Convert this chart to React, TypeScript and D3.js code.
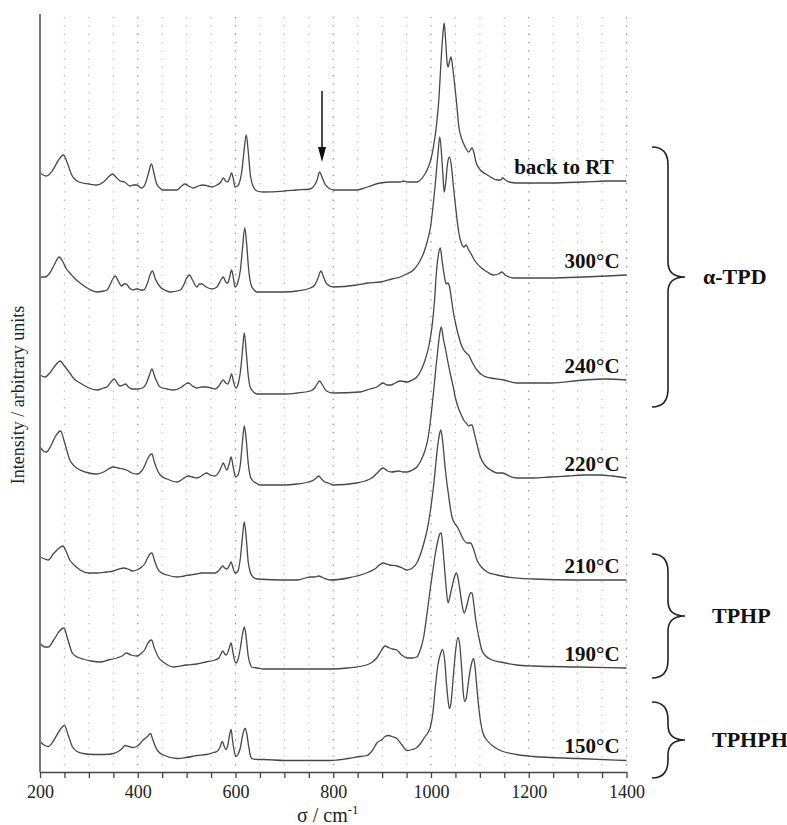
import { useEffect, useRef } from 'react'
import * as d3 from 'd3'

type Pt = [number, number]

// spectrum labels, top to bottom, and the vertical offset of each trace (arbitrary units)
const traceLabels = ['back to RT', '300°C', '240°C', '220°C', '210°C', '190°C', '150°C']
const traceOffsets = [591, 497, 392, 294, 192, 104, 11.5]

// [wavenumber, intensity above the trace's offset]
const specRT: Pt[] = [[200,8],[213,5],[225,10],[238,21],[248,26],[256,18],[265,6],[280,-1],[300,-3],[316,-4],[330,-1],[340,4],[349,7],[357,3],[364,0],[373,-1],[384,-5],[391,-4],[398,-4],[408,-7],[416,-2],[422,8],[428,17],[433,8],[438,-2],[445,-7],[452,-9],[480,-9],[490,-5],[496,-3],[504,-5],[514,-7],[524,-5],[534,-4],[544,-5],[552,-6],[562,-4],[570,-1],[575,3],[580,0],[584,-1],[588,3],[592,8],[596,1],[599,-6],[604,-5],[609,0],[613,10],[617,28],[622,46],[626,30],[630,8],[635,-4],[644,-10],[657,-11],[700,-10],[725,-9],[753,-8],[762,-4],[767,1],[772,9],[777,4],[783,-3],[794,-8],[800,-9],[848,-9],[870,-6],[896,-2],[920,-1],[937,-1],[944,0],[952,-1],[971,-1],[985,5],[992,11],[1000,22],[1005,34],[1011,55],[1016,81],[1020,115],[1024,145],[1027,158],[1030,140],[1033,118],[1035,114],[1038,120],[1041,124],[1044,115],[1048,98],[1052,80],[1057,54],[1063,42],[1070,34],[1077,29],[1084,33],[1088,28],[1092,19],[1101,11],[1112,7],[1122,4],[1135,1],[1142,1],[1147,3],[1152,1],[1160,-1],[1176,-2],[1244,-2],[1313,-1],[1360,0],[1400,0]]

const spec300: Pt[] = [[200,-2],[210,-2],[220,2],[230,11],[239,18],[246,14],[254,6],[261,2],[270,-3],[282,-8],[300,-14],[316,-17],[330,-16],[337,-15],[345,-8],[350,-3],[354,-1],[360,-6],[367,-11],[372,-9],[376,-9],[383,-13],[391,-15],[396,-14],[401,-14],[406,-15],[412,-15],[420,-8],[425,0],[430,4],[436,-4],[446,-12],[455,-15],[466,-17],[487,-15],[495,-9],[500,-3],[506,0],[512,-5],[521,-12],[526,-9],[531,-9],[540,-12],[552,-14],[562,-12],[570,-5],[575,-2],[580,-7],[584,-8],[588,-2],[592,5],[596,-4],[599,-12],[605,-7],[610,5],[614,25],[619,47],[623,30],[627,5],[632,-10],[638,-15],[644,-17],[700,-17],[726,-16],[753,-13],[762,-10],[768,-4],[775,4],[780,-2],[787,-9],[800,-12],[848,-10],[870,-8],[896,-7],[920,-4],[937,-2],[950,1],[964,5],[975,12],[985,22],[992,33],[999,48],[1004,68],[1009,92],[1014,120],[1018,138],[1022,118],[1025,95],[1027,83],[1030,92],[1034,112],[1038,118],[1042,108],[1046,88],[1051,65],[1057,42],[1062,32],[1067,28],[1072,30],[1076,26],[1081,22],[1090,14],[1101,8],[1115,3],[1128,0],[1138,1],[1145,3],[1152,0],[1169,-3],[1200,-3],[1244,-3],[1313,-2],[1360,-1],[1400,0]]

const spec240: Pt[] = [[200,5],[210,3],[220,7],[232,15],[241,19],[250,14],[261,7],[270,1],[282,-3],[300,-8],[316,-10],[330,-8],[337,-7],[345,-2],[352,1],[358,-3],[364,-6],[370,-5],[375,-4],[381,-7],[388,-9],[401,-9],[410,-8],[418,-3],[424,5],[429,11],[435,3],[446,-7],[460,-9],[473,-10],[490,-7],[498,-4],[504,-3],[512,-6],[521,-8],[531,-7],[541,-7],[550,-8],[558,-9],[566,-6],[571,-2],[575,0],[580,-3],[584,-4],[588,0],[592,6],[596,-2],[601,-8],[606,-3],[610,8],[614,28],[618,47],[622,28],[626,5],[630,-7],[637,-12],[644,-14],[700,-14],[726,-13],[753,-11],[762,-8],[767,-4],[772,-1],[778,-5],[786,-11],[800,-13],[855,-12],[875,-9],[889,-7],[902,-3],[910,-5],[917,-5],[927,-3],[937,-1],[951,-2],[962,0],[971,3],[980,10],[988,20],[996,35],[1002,53],[1007,78],[1011,107],[1015,125],[1019,132],[1023,118],[1027,105],[1031,96],[1034,97],[1037,95],[1041,84],[1045,70],[1051,55],[1057,43],[1062,35],[1067,30],[1072,27],[1077,25],[1085,17],[1094,10],[1108,4],[1122,2],[1149,0],[1176,-3],[1244,-3],[1313,0],[1355,1],[1400,0]]

const spec220: Pt[] = [[200,31],[207,27],[213,26],[222,32],[232,42],[242,47],[250,36],[261,18],[270,12],[282,8],[300,5],[316,4],[330,6],[340,9],[350,11],[360,10],[370,9],[377,8],[388,5],[398,4],[408,7],[414,12],[420,19],[425,23],[429,24],[434,16],[440,8],[446,3],[460,-1],[480,-4],[492,-1],[498,1],[504,2],[512,1],[521,0],[530,2],[536,4],[541,5],[548,3],[558,2],[566,6],[571,11],[575,15],[578,12],[582,8],[587,14],[591,21],[595,12],[600,1],[605,3],[610,14],[614,35],[618,52],[622,38],[626,15],[630,2],[634,-2],[642,-5],[650,-7],[700,-7],[726,-6],[749,-4],[760,-2],[765,0],[770,2],[776,-1],[783,-4],[790,-5],[800,-7],[848,-5],[865,-3],[879,0],[890,5],[902,10],[911,7],[920,6],[934,7],[943,6],[951,6],[962,8],[971,11],[980,18],[988,28],[994,40],[999,58],[1005,85],[1010,110],[1015,133],[1018,145],[1021,151],[1025,140],[1030,128],[1035,115],[1040,103],[1046,90],[1050,80],[1056,70],[1062,63],[1067,58],[1072,55],[1077,52],[1081,53],[1084,53],[1088,46],[1092,38],[1096,30],[1101,21],[1110,13],[1122,8],[1135,5],[1147,5],[1160,2],[1176,0],[1210,0],[1244,1],[1280,2],[1313,3],[1343,3],[1370,2],[1400,0]]

const spec210: Pt[] = [[200,23],[210,21],[217,20],[227,26],[237,31],[247,34],[254,28],[261,20],[270,15],[282,10],[300,7],[316,7],[335,8],[350,9],[362,11],[371,12],[380,11],[390,9],[398,10],[408,13],[414,16],[420,22],[425,26],[429,27],[434,20],[440,12],[446,8],[460,5],[480,3],[495,4],[507,5],[520,6],[530,7],[541,7],[550,7],[558,7],[565,9],[570,12],[574,14],[578,12],[582,11],[587,14],[591,18],[595,12],[599,7],[605,9],[610,22],[614,42],[618,58],[622,42],[626,18],[630,8],[636,3],[644,1],[700,0],[726,0],[753,3],[762,3],[770,4],[780,2],[794,0],[830,2],[868,7],[885,11],[902,17],[915,15],[930,14],[941,12],[951,10],[962,12],[971,17],[980,28],[986,38],[992,50],[999,70],[1005,93],[1009,112],[1012,127],[1016,142],[1020,150],[1024,138],[1029,112],[1035,88],[1043,63],[1048,57],[1054,53],[1060,47],[1067,40],[1074,37],[1081,37],[1087,31],[1094,20],[1103,13],[1115,8],[1135,5],[1156,3],[1210,1],[1300,0],[1400,0]]

const spec190: Pt[] = [[200,25],[210,21],[217,21],[228,28],[240,37],[249,40],[256,30],[266,15],[276,11],[288,9],[305,7],[323,6],[340,8],[357,10],[368,12],[377,15],[386,13],[398,12],[408,15],[414,18],[420,24],[424,27],[428,28],[434,20],[442,11],[455,5],[473,1],[500,3],[521,4],[540,6],[558,8],[566,10],[570,14],[574,17],[578,14],[581,13],[586,18],[591,25],[595,15],[598,8],[601,5],[606,10],[610,20],[614,33],[618,41],[622,30],[626,12],[630,4],[633,1],[645,0],[657,-1],[794,-1],[830,0],[868,3],[880,6],[889,10],[898,17],[906,22],[915,20],[922,19],[930,18],[940,13],[951,10],[962,10],[971,11],[978,18],[985,31],[992,55],[999,81],[1004,98],[1009,115],[1014,127],[1018,134],[1021,135],[1024,122],[1028,98],[1031,80],[1035,65],[1039,72],[1043,81],[1048,91],[1052,95],[1056,88],[1060,75],[1064,62],[1068,55],[1072,60],[1077,70],[1081,75],[1084,75],[1088,62],[1091,50],[1094,41],[1099,28],[1104,18],[1112,12],[1125,8],[1142,6],[1175,3],[1210,2],[1300,1],[1400,0]]

const spec150: Pt[] = [[200,19],[210,15],[217,14],[228,20],[240,30],[250,35],[258,25],[266,14],[276,9],[288,7],[310,6],[333,6],[350,7],[360,9],[368,12],[374,15],[382,14],[390,13],[398,14],[405,17],[410,20],[415,22],[420,24],[426,27],[430,22],[436,14],[442,9],[455,5],[480,2],[500,3],[521,5],[540,6],[555,8],[562,9],[568,13],[573,19],[577,14],[581,11],[585,17],[588,26],[591,31],[594,20],[598,8],[601,4],[605,6],[610,13],[614,24],[618,31],[620,32],[623,27],[627,14],[630,6],[633,2],[645,1],[657,1],[700,0],[794,0],[830,2],[855,4],[869,5],[880,10],[890,18],[900,21],[906,24],[913,25],[920,24],[930,22],[940,16],[951,10],[962,11],[971,13],[980,18],[988,24],[994,28],[999,34],[1004,48],[1009,74],[1014,95],[1019,106],[1024,111],[1028,100],[1032,75],[1036,56],[1038,52],[1041,58],[1045,80],[1050,108],[1055,123],[1059,115],[1063,90],[1066,68],[1069,59],[1072,62],[1077,80],[1082,95],[1087,102],[1090,94],[1094,72],[1098,52],[1101,40],[1106,28],[1115,20],[1128,14],[1142,10],[1175,6],[1210,4],[1300,2],[1400,0]]

const spectra = [specRT, spec300, spec240, spec220, spec210, spec190, spec150]

const xTicks = [200, 250, 300, 350, 400, 450, 500, 550, 600, 650, 700, 750, 800, 850, 900, 950, 1000, 1050, 1100, 1150, 1200, 1250, 1300, 1350, 1400]
const xTickLabels = [200, 400, 600, 800, 1000, 1200, 1400]

// phase groups marked by braces: [name, low, high] in intensity units
const phaseNames = ['α-TPD', 'TPHP', 'TPHPH']
const phaseLow = [365, 94, -6]
const phaseHigh = [625, 218, 70]

const arrowAt = 777
const FONT = "'Liberation Serif', 'Times New Roman', serif"

export default function App() {
  const svgRef = useRef<SVGSVGElement>(null)

  useEffect(() => {
    if (!svgRef.current) return
    const svg = d3.select(svgRef.current)
    svg.selectAll('*').remove()

    const x = d3.scaleLinear().domain([200, 1400]).range([40, 626.5])
    const y = d3.scaleLinear().domain([0, 758]).range([772, 14])

    // dotted grid
    svg.append('g')
      .selectAll('line')
      .data(xTicks.filter(t => t > 200))
      .enter().append('line')
      .attr('x1', d => x(d)).attr('x2', d => x(d))
      .attr('y1', 17).attr('y2', y(0) - 2)
      .attr('stroke', d => xTickLabels.includes(d) ? '#8a8a8a' : '#b8b8b8')
      .attr('stroke-width', 1.2)
      .attr('stroke-dasharray', '1.3 7')

    // spectra
    const line = d3.line<Pt>()
      .x(d => x(d[0]))
      .y(d => y(d[1]))
      .curve(d3.curveMonotoneX)

    spectra.forEach((s, i) => {
      const off = traceOffsets[i]
      svg.append('path')
        .datum(s.map(p => [p[0], p[1] + off] as Pt))
        .attr('d', line)
        .attr('fill', 'none')
        .attr('stroke', '#474747')
        .attr('stroke-width', 1.3)
        .attr('stroke-linejoin', 'round')
    })

    // x axis
    const xAxis = d3.axisBottom(x)
      .tickValues(xTicks)
      .tickSize(6)
      .tickSizeOuter(0)
      .tickPadding(7)
      .tickFormat(d => xTickLabels.includes(+d) ? String(d) : '')
    const ax = svg.append('g')
      .attr('transform', `translate(0,${y(0)})`)
      .call(xAxis)
    ax.select('.domain').attr('stroke', '#444').attr('stroke-width', 1.6)
    ax.selectAll('.tick line').attr('stroke', '#444').attr('stroke-width', 1.3)
    ax.selectAll('.tick text')
      .attr('fill', '#222')
      .style('font-family', FONT)
      .style('font-size', '18px')

    // y axis line
    svg.append('line')
      .attr('x1', 40).attr('x2', 40)
      .attr('y1', 14).attr('y2', y(0))
      .attr('stroke', '#777')
      .attr('stroke-width', 2)

    // axis titles
    const xt = svg.append('text')
      .attr('x', 297).attr('y', 821.5)
      .attr('fill', '#222')
      .style('font-family', FONT)
      .style('font-size', '20px')
    xt.append('tspan').text('σ / cm')
    xt.append('tspan').attr('dy', -8).style('font-size', '13px').text('-1')

    svg.append('text')
      .attr('transform', 'translate(24,395) rotate(-90)')
      .attr('text-anchor', 'middle')
      .attr('fill', '#222')
      .style('font-family', FONT)
      .style('font-size', '18px')
      .text('Intensity / arbitrary units')

    // trace labels
    traceLabels.forEach((lab, i) => {
      svg.append('text')
        .attr('x', i === 0 ? x(1374) : x(1386))
        .attr('y', y(traceOffsets[i] + 7.5))
        .attr('text-anchor', 'end')
        .attr('fill', '#111')
        .style('font-family', FONT)
        .style('font-size', '21px')
        .style('font-weight', 'bold')
        .text(lab)
    })

    // braces
    const x0 = 652, xv = 668, xt2 = 685
    phaseNames.forEach((name, i) => {
      const top = y(phaseHigh[i])
      const bot = y(phaseLow[i])
      const mid = (top + bot) / 2
      const r = 18, r2 = 15
      const p = d3.path()
      p.moveTo(x0, top)
      p.quadraticCurveTo(xv, top, xv, top + r)
      p.lineTo(xv, mid - r2)
      p.quadraticCurveTo(xv, mid, xt2, mid)
      p.quadraticCurveTo(xv, mid, xv, mid + r2)
      p.lineTo(xv, bot - r)
      p.quadraticCurveTo(xv, bot, x0, bot)
      svg.append('path')
        .attr('d', p.toString())
        .attr('fill', 'none')
        .attr('stroke', '#222')
        .attr('stroke-width', 1.6)

      svg.append('text')
        .attr('x', i === 0 ? 703 : 712)
        .attr('y', mid + 7)
        .attr('fill', '#111')
        .style('font-family', FONT)
        .style('font-size', '22px')
        .style('font-weight', 'bold')
        .text(name)
    })

    // arrow marking the new band
    const ax0 = x(arrowAt)
    svg.append('line')
      .attr('x1', ax0).attr('x2', ax0)
      .attr('y1', y(681)).attr('y2', y(622))
      .attr('stroke', '#111')
      .attr('stroke-width', 1.5)
    svg.append('path')
      .attr('d', `M${ax0 - 4},${y(625)} L${ax0 + 4},${y(625)} L${ax0},${y(610)} Z`)
      .attr('fill', '#111')
  }, [])

  return (
    <svg
      ref={svgRef}
      width={787}
      height={825}
      style={{ position: 'absolute', left: 0, top: 0, background: '#fff' }}
    />
  )
}
